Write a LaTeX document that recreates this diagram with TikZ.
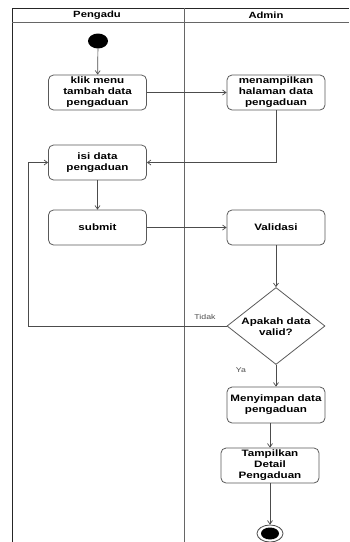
\documentclass[tikz,border=0pt]{standalone}
\usepackage{fontspec}
\newfontfamily\lab{Liberation Sans}[FakeStretch=1.25,BoldFeatures={FakeStretch=1.25}]
\usetikzlibrary{arrows.meta,shapes.geometric}
\begin{document}
\begin{tikzpicture}[x=1pt,y=-1pt,
  line/.style={draw=black!70,line width=0.7pt},
  flow/.style={line,-{Straight Barb[length=3.5pt,width=5pt]}},
  act/.style={draw=black!65,line width=0.8pt,rounded corners=5pt,minimum width=98pt,minimum height=35pt,inner sep=0pt,align=center,font=\lab\bfseries\fontsize{9.3}{11}\selectfont},
  txt/.style={inner sep=0pt,align=center,font=\lab\bfseries\fontsize{9.3}{11}\selectfont},
  hdr/.style={inner sep=0pt,font=\lab\bfseries\fontsize{9}{11}\selectfont},
  small/.style={inner sep=0pt,text=black!70,font=\lab\fontsize{7}{8}\selectfont}]
\useasboundingbox (0,0) rectangle (349,542);
% swimlanes
\draw[draw=black!85,line width=0.9pt] (12,542) -- (12,8) -- (349,8);
\draw[draw=black!60,line width=0.8pt] (12,22) -- (349,22);
\draw[draw=black!60,line width=0.8pt] (184,8) -- (184,542);
\node[hdr] (h1) at (97,15) {Pengadu};
\node[hdr] (h2) at (266,15) {Admin};
% nodes
\node[ellipse,fill=black,minimum width=20pt,minimum height=15pt,inner sep=0pt] (start) at (98,41) {};
\node[act] (b1) at (97.5,92.5) {klik menu\\tambah data\\pengaduan};
\node[act] (b2) at (276,92.5) {menampilkan\\halaman data\\pengaduan};
\node[act] (b3) at (97.5,162.5) {isi data\\pengaduan};
\node[act] (b4) at (97.5,227.5) {submit};
\node[act] (val) at (276,227.5) {Validasi};
\node[diamond,draw=black!65,line width=0.8pt,minimum width=98pt,minimum height=77pt,inner sep=0pt] (dec) at (276,326) {};
\node[txt] (dect) at (276,327) {Apakah data\\valid?};
\node[act,minimum height=36pt] (sim) at (276,405) {Menyimpan data\\pengaduan};
\node[act] (tam) at (270,465.5) {Tampilkan\\Detail\\Pengaduan};
\node[ellipse,draw=black!70,line width=0.8pt,minimum width=26pt,minimum height=17pt,inner sep=0pt] (end) at (270,533.5) {};
\node[ellipse,fill=black,minimum width=18pt,minimum height=12pt,inner sep=0pt] (endi) at (270,533.5) {};
\coordinate (fb) at (28,326);
% connectors
\draw[flow] (start) -- (b1);
\draw[flow] (b1) -- (b2);
\draw[flow] (b2.south) |- (b3.east);
\draw[flow] (b3) -- (b4);
\draw[flow] (b4) -- (val);
\draw[flow] (val) -- (dec.north);
\draw[flow] (dec.west) -- (fb) |- (b3.west);
\draw[flow] (dec.south) -- (sim.north);
\draw[flow] (tam.north |- sim.south) -- (tam.north);
\draw[flow] (tam) -- (end);
% labels
\node[small] (tidak) at (205,317) {Tidak};
\node[small] (ya) at (241,370) {Ya};
\end{tikzpicture}
\end{document}
